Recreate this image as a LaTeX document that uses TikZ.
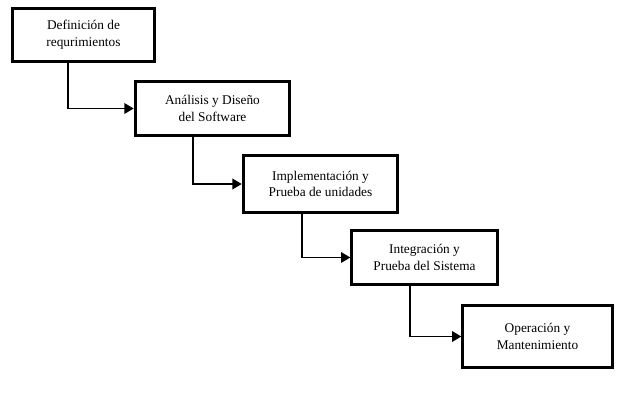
\documentclass[tikz,border=0pt]{standalone}
\usepackage{fontspec}
\setmainfont{Liberation Serif}
\usetikzlibrary{arrows.meta}
\begin{document}
\begin{tikzpicture}[x=0.75pt,y=-0.75pt,
  box/.style={draw,line width=2.2pt,align=center,font=\fontsize{10}{12.5}\selectfont,inner sep=2pt},
  conn/.style={line width=1pt,-{Triangle[length=7pt,width=8pt]}}]
\useasboundingbox[fill=white] (0,0) rectangle (640,400);
\node[box,minimum width=107pt,minimum height=40pt] (b1) at (83.5,35) {Definición de\\requrimientos};
\node[box,minimum width=116pt,minimum height=40pt] (b2) at (212.5,108.5) {Análisis y Diseño\\del Software};
\node[box,minimum width=116pt,minimum height=43pt] (b3) at (320.5,184) {Implementación y\\Prueba de unidades};
\node[box,minimum width=109pt,minimum height=41pt] (b4) at (424.5,257.5) {Integración y\\Prueba del Sistema};
\node[box,minimum width=112pt,minimum height=47pt] (b5) at (537.5,336.5) {Operación y\\Mantenimiento};
\draw[conn] ([xshift=-11.6pt]b1.south) |- (b2.west);
\draw[conn] ([xshift=-14.6pt]b2.south) |- (b3.west);
\draw[conn] ([xshift=-13.9pt]b3.south) |- (b4.west);
\draw[conn] ([xshift=-10.9pt]b4.south) |- (b5.west);
\end{tikzpicture}
\end{document}
